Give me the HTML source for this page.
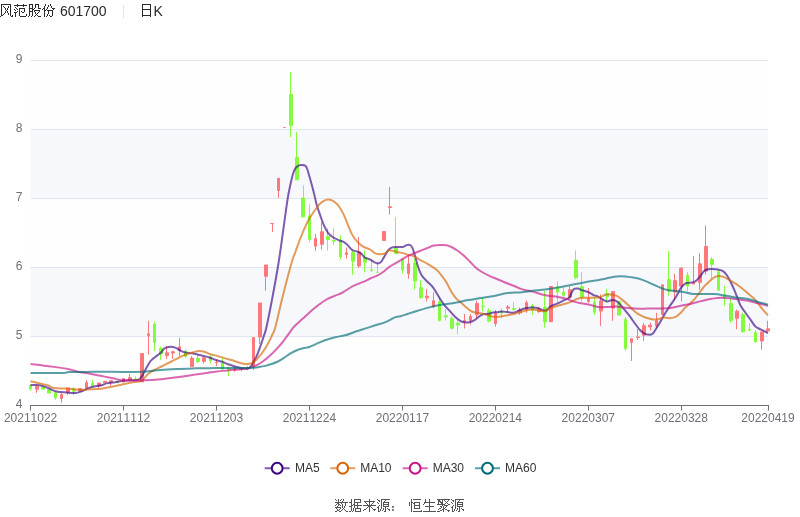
<!DOCTYPE html>
<html><head><meta charset="utf-8"><title>K</title>
<style>html,body{margin:0;padding:0;background:#fff}svg{display:block;will-change:transform}text{font-family:"Liberation Sans",sans-serif;font-kerning:none}</style></head>
<body>
<svg width="800" height="517" viewBox="0 0 800 517">
<rect width="800" height="517" fill="#fff"/>
<path fill="#2a2a2a" shape-rendering="crispEdges" d="M1 4h10v1h-10zM17 4h1v1h-1zM23 4h1v1h-1zM29 4h4v1h-4zM35 4h4v1h-4zM45 4h1v1h-1zM50 4h1v1h-1zM1 5h1v1h-1zM10 5h1v1h-1zM14 5h13v1h-13zM29 5h1v1h-1zM32 5h1v1h-1zM35 5h1v1h-1zM38 5h1v1h-1zM45 5h1v1h-1zM48 5h1v1h-1zM50 5h1v1h-1zM1 6h1v1h-1zM3 6h1v1h-1zM8 6h1v1h-1zM10 6h1v1h-1zM17 6h1v1h-1zM23 6h1v1h-1zM29 6h1v1h-1zM32 6h1v1h-1zM35 6h1v1h-1zM38 6h1v1h-1zM44 6h1v1h-1zM48 6h1v1h-1zM51 6h1v1h-1zM1 7h1v1h-1zM4 7h1v1h-1zM8 7h1v1h-1zM10 7h1v1h-1zM15 7h1v1h-1zM29 7h1v1h-1zM32 7h1v1h-1zM35 7h1v1h-1zM38 7h1v1h-1zM44 7h1v1h-1zM47 7h1v1h-1zM51 7h1v1h-1zM1 8h1v1h-1zM5 8h1v1h-1zM7 8h1v1h-1zM10 8h1v1h-1zM16 8h1v1h-1zM19 8h6v1h-6zM29 8h4v1h-4zM34 8h1v1h-1zM38 8h3v1h-3zM43 8h2v1h-2zM47 8h1v1h-1zM52 8h3v1h-3zM1 9h1v1h-1zM5 9h1v1h-1zM7 9h1v1h-1zM10 9h1v1h-1zM14 9h1v1h-1zM17 9h1v1h-1zM19 9h1v1h-1zM24 9h1v1h-1zM29 9h1v1h-1zM32 9h2v1h-2zM42 9h1v1h-1zM44 9h1v1h-1zM46 9h1v1h-1zM53 9h1v1h-1zM1 10h1v1h-1zM6 10h1v1h-1zM10 10h1v1h-1zM15 10h1v1h-1zM19 10h1v1h-1zM24 10h1v1h-1zM29 10h1v1h-1zM32 10h1v1h-1zM34 10h6v1h-6zM44 10h2v1h-2zM47 10h6v1h-6zM1 11h1v1h-1zM5 11h1v1h-1zM7 11h1v1h-1zM10 11h1v1h-1zM17 11h1v1h-1zM19 11h1v1h-1zM21 11h1v1h-1zM24 11h1v1h-1zM29 11h4v1h-4zM34 11h1v1h-1zM39 11h1v1h-1zM44 11h1v1h-1zM48 11h1v1h-1zM52 11h1v1h-1zM1 12h1v1h-1zM5 12h1v1h-1zM7 12h1v1h-1zM10 12h1v1h-1zM14 12h3v1h-3zM19 12h1v1h-1zM22 12h2v1h-2zM29 12h1v1h-1zM32 12h1v1h-1zM35 12h1v1h-1zM38 12h1v1h-1zM44 12h1v1h-1zM48 12h1v1h-1zM52 12h1v1h-1zM1 13h1v1h-1zM4 13h1v1h-1zM8 13h1v1h-1zM10 13h1v1h-1zM15 13h1v1h-1zM19 13h1v1h-1zM29 13h1v1h-1zM32 13h1v1h-1zM35 13h1v1h-1zM37 13h1v1h-1zM44 13h1v1h-1zM48 13h1v1h-1zM52 13h1v1h-1zM1 14h1v1h-1zM3 14h1v1h-1zM8 14h1v1h-1zM10 14h1v1h-1zM15 14h1v1h-1zM19 14h1v1h-1zM26 14h1v1h-1zM29 14h1v1h-1zM32 14h1v1h-1zM36 14h1v1h-1zM44 14h1v1h-1zM47 14h1v1h-1zM52 14h1v1h-1zM1 15h2v1h-2zM10 15h1v1h-1zM12 15h1v1h-1zM15 15h1v1h-1zM19 15h1v1h-1zM26 15h1v1h-1zM29 15h1v1h-1zM32 15h1v1h-1zM35 15h1v1h-1zM37 15h1v1h-1zM44 15h1v1h-1zM47 15h1v1h-1zM49 15h1v1h-1zM52 15h1v1h-1zM0 16h1v1h-1zM11 16h2v1h-2zM15 16h1v1h-1zM20 16h6v1h-6zM28 16h1v1h-1zM31 16h1v1h-1zM34 16h1v1h-1zM38 16h3v1h-3zM44 16h1v1h-1zM46 16h1v1h-1zM50 16h2v1h-2zM142 4h9v1h-9zM142 5h1v1h-1zM150 5h1v1h-1zM142 6h1v1h-1zM150 6h1v1h-1zM142 7h1v1h-1zM150 7h1v1h-1zM142 8h1v1h-1zM150 8h1v1h-1zM142 9h9v1h-9zM142 10h1v1h-1zM150 10h1v1h-1zM142 11h1v1h-1zM150 11h1v1h-1zM142 12h1v1h-1zM150 12h1v1h-1zM142 13h1v1h-1zM150 13h1v1h-1zM142 14h1v1h-1zM150 14h1v1h-1zM142 15h9v1h-9zM142 16h1v1h-1zM150 16h1v1h-1z"/>
<text x="59.9" y="16" font-size="14" fill="#2a2a2a">601700</text>
<rect x="123" y="5" width="1" height="13" fill="#e4e4e4"/>
<text x="153.6" y="16" font-size="14" fill="#2a2a2a">K</text>
<rect x="30.6" y="60.5" width="737.42" height="69" fill="rgba(250,250,250,0.2)"/>
<rect x="30.6" y="129.5" width="737.42" height="69" fill="rgba(210,219,238,0.2)"/>
<rect x="30.6" y="198.5" width="737.42" height="69" fill="rgba(250,250,250,0.2)"/>
<rect x="30.6" y="267.5" width="737.42" height="69" fill="rgba(210,219,238,0.2)"/>
<rect x="30.6" y="336.5" width="737.42" height="69" fill="rgba(250,250,250,0.2)"/>
<path d="M30.6 60.5H768.02" stroke="#e0e6f1" stroke-width="1" fill="none"/>
<path d="M30.6 129.5H768.02" stroke="#e0e6f1" stroke-width="1" fill="none"/>
<path d="M30.6 198.5H768.02" stroke="#e0e6f1" stroke-width="1" fill="none"/>
<path d="M30.6 267.5H768.02" stroke="#e0e6f1" stroke-width="1" fill="none"/>
<path d="M30.6 336.5H768.02" stroke="#e0e6f1" stroke-width="1" fill="none"/>
<text x="22.5" y="62.8" font-size="12" fill="#6e7079" text-anchor="end">9</text>
<text x="22.5" y="131.8" font-size="12" fill="#6e7079" text-anchor="end">8</text>
<text x="22.5" y="200.8" font-size="12" fill="#6e7079" text-anchor="end">7</text>
<text x="22.5" y="269.8" font-size="12" fill="#6e7079" text-anchor="end">6</text>
<text x="22.5" y="338.8" font-size="12" fill="#6e7079" text-anchor="end">5</text>
<text x="22.5" y="407.8" font-size="12" fill="#6e7079" text-anchor="end">4</text>
<clipPath id="cp"><rect x="29" y="59" width="742" height="348"/></clipPath>
<g clip-path="url(#cp)">
<path d="M35.5 386.4H38.5V389.2H35.5ZM36.5 389.2V392.8M60.5 394.5H62.5V398.5H60.5ZM61.5 393.2V394.5M61.5 398.5V402.9M66.5 387.9H69.5V392.3H66.5ZM67.5 392.3V394.8M78.5 388.6H81.5V391H78.5ZM85.5 382.6H87.5V387.9H85.5ZM86.5 380.2V382.6M97.5 383H100.5V385.8H97.5ZM98.5 385.8V387.8M103.5 381.3H106.5V382.6H103.5ZM109.5 380.7H112.5V382H109.5ZM110.5 382V385.9M122.5 378.6H124.5V382H122.5ZM128.5 377.6H131.5V379.8H128.5ZM129.5 374V377.6M140.5 353.5H143.5V381.8H140.5ZM147.5 333.8H149.5V335.7H147.5ZM148.5 320.8V333.8M148.5 335.7V354.7M165.5 352.8H168.5V355.6H165.5ZM166.5 346.3V352.8M166.5 355.6V358.9M171.5 351.7H174.5V353H171.5ZM172.5 350.8V351.7M172.5 353V358.9M178.5 346.8H180.5V350.5H178.5ZM179.5 337.9V346.8M179.5 350.5V356.1M190.5 358.1H193.5V366.6H190.5ZM191.5 356.1V358.1M202.5 357.7H205.5V361.3H202.5ZM203.5 361.3V363.5M215.5 362.3H217.5V362.7H215.5ZM216.5 359.8V362.3M216.5 362.7V366.2M233.5 368.9H236.5V369.8H233.5ZM234.5 366.5V368.9M234.5 369.8V371.8M239.5 368.9H242.5V369.5H239.5ZM241.5 367.8V368.9M241.5 369.5V371.3M252.5 337.5H254.5V366.6H252.5ZM253.5 366.6V369.7M258.5 303H261.5V337.1H258.5ZM259.5 337.1V343.9M264.5 265H267.5V276.3H264.5ZM265.5 276.3V290.7M270.5 223.5H273.5V223.5H270.5ZM272.5 223.5V231.8M277.5 178.3H279.5V190.5H277.5ZM278.5 190.5V197.9M283.5 127.5H285.5V127.5H283.5ZM314.5 238.4H316.5V246.2H314.5ZM315.5 233.9V238.4M315.5 246.2V250.8M320.5 231.7H323.5V244.3H320.5ZM321.5 222.2V231.7M321.5 244.3V249.6M345.5 252.8H347.5V254.5H345.5ZM346.5 247.4V252.8M346.5 254.5V258.7M357.5 251.9H360.5V266H357.5ZM358.5 237V251.9M358.5 266V268M382.5 231.5H385.5V240.5H382.5ZM388.5 206.7H391.5V207.5H388.5ZM389.5 187V206.7M389.5 207.5V214.6M407.5 263.9H409.5V273.6H407.5ZM408.5 255.2V263.9M408.5 273.6V278.7M425.5 296.3H428.5V297.8H425.5ZM426.5 289.1V296.3M426.5 297.8V301.4M432.5 300.7H434.5V306.6H432.5ZM433.5 292.4V300.7M433.5 306.6V308M463.5 320.5H465.5V322H463.5ZM464.5 314V320.5M464.5 322V328.5M469.5 316.4H471.5V320.4H469.5ZM470.5 314V316.4M470.5 320.4V324.7M475.5 303.4H478.5V314.8H475.5ZM476.5 300.8V303.4M476.5 314.8V317.8M494.5 313.2H496.5V323.6H494.5ZM495.5 310.2V313.2M495.5 323.6V326.6M506.5 307H509.5V308.2H506.5ZM507.5 305V307M507.5 308.2V312.8M518.5 310.1H521.5V312.9H518.5ZM519.5 307.5V310.1M519.5 312.9V314.7M525.5 302.6H527.5V309.8H525.5ZM526.5 300.6V302.6M526.5 309.8V312.8M537.5 308.9H540.5V311.6H537.5ZM538.5 307.1V308.9M538.5 311.6V312.8M549.5 286.5H552.5V321.7H549.5ZM568.5 289.7H571.5V297.2H568.5ZM569.5 286.4V289.7M569.5 297.2V298.3M587.5 298.7H589.5V301.5H587.5ZM588.5 288V298.7M588.5 301.5V302.8M599.5 300.9H602.5V311.1H599.5ZM600.5 294.4V300.9M600.5 311.1V325.9M611.5 291.5H614.5V308.1H611.5ZM612.5 308.1V320.8M630.5 338.7H632.5V342.4H630.5ZM631.5 342.4V360.9M636.5 336.9H639.5V337.5H636.5ZM637.5 329V336.9M637.5 337.5V340M642.5 325.7H645.5V335.3H642.5ZM643.5 322.8V325.7M643.5 335.3V340.9M648.5 325.2H651.5V326.9H648.5ZM650.5 322.6V325.2M650.5 326.9V330.6M655.5 320.6H657.5V325.9H655.5ZM656.5 312.9V320.6M656.5 325.9V328.4M661.5 284.8H663.5V314.7H661.5ZM673.5 280.6H676.5V292.1H673.5ZM674.5 273.8V280.6M674.5 292.1V300.2M679.5 268.4H682.5V286.1H679.5ZM681.5 267V268.4M681.5 286.1V301.4M692.5 282.9H694.5V284H692.5ZM693.5 256V282.9M698.5 263.8H701.5V282.4H698.5ZM699.5 253.2V263.8M699.5 282.4V290.1M704.5 246.4H707.5V271.2H704.5ZM705.5 225.5V246.4M705.5 271.2V274.6M735.5 311.3H738.5V318.3H735.5ZM736.5 309.6V311.3M736.5 318.3V329.1M760.5 331.9H763.5V341H760.5ZM761.5 341V349.7M766.5 328.8H769.5V330.9H766.5ZM767.5 320.8V328.8M767.5 330.9V332" fill="#fe777b" stroke="#fe777b" stroke-width="1"/>
<path d="M29.5 385.6H31.5V388.8H29.5ZM30.5 388.8V390.7M41.5 387.1H44.5V389.2H41.5ZM47.5 389.8H50.5V393.1H47.5ZM54.5 392.6H56.5V397.8H54.5ZM55.5 391.5V392.6M55.5 397.8V399.8M72.5 388.9H75.5V391.3H72.5ZM73.5 387V388.9M73.5 391.3V395M91.5 383.2H93.5V385.8H91.5ZM92.5 380.2V383.2M116.5 381.3H118.5V382.2H116.5ZM117.5 382.2V383.4M134.5 378.9H137.5V380H134.5ZM135.5 376.5V378.9M153.5 324.2H155.5V342.4H153.5ZM154.5 321.5V324.2M154.5 342.4V351M159.5 348.3H162.5V354H159.5ZM160.5 346.7V348.3M160.5 354V359.8M184.5 351.2H186.5V356.3H184.5ZM185.5 349.5V351.2M185.5 356.3V358M196.5 358.5H199.5V361.5H196.5ZM197.5 355.5V358.5M197.5 361.5V363M209.5 356.9H211.5V360.9H209.5ZM210.5 355.5V356.9M210.5 360.9V363.3M221.5 363.2H223.5V369.2H221.5ZM222.5 358.3V363.2M227.5 368.9H230.5V369.8H227.5ZM228.5 366.5V368.9M228.5 369.8V376M246.5 368.3H248.5V368.8H246.5ZM247.5 365.5V368.3M247.5 368.8V370.3M289.5 94.5H292.5V125.4H289.5ZM290.5 72V94.5M290.5 125.4V137M295.5 157.5H298.5V179.8H295.5ZM296.5 132.2V157.5M301.5 198H304.5V216.9H301.5ZM303.5 185.3V198M308.5 215.7H310.5V239.3H308.5ZM309.5 204.2V215.7M309.5 239.3V241.9M326.5 236.5H329.5V239.5H326.5ZM327.5 228.2V236.5M327.5 239.5V250.5M332.5 240.5H335.5V241.2H332.5ZM333.5 228.2V240.5M333.5 241.2V244.8M339.5 240.9H341.5V256.6H339.5ZM340.5 235.4V240.9M340.5 256.6V259.3M351.5 252.5H354.5V261.2H351.5ZM352.5 250.8V252.5M352.5 261.2V275.1M363.5 257.6H366.5V262.2H363.5ZM364.5 250.5V257.6M364.5 262.2V272.5M370.5 269.8H372.5V270.4H370.5ZM371.5 259V269.8M371.5 270.4V271.8M376.5 272.3H378.5V272.3H376.5ZM377.5 261.5V272.3M394.5 248.1H397.5V253.4H394.5ZM395.5 217.1V248.1M401.5 259.2H403.5V270H401.5ZM402.5 270V273.8M413.5 263H416.5V281H413.5ZM414.5 259V263M414.5 281V289.5M419.5 287.7H422.5V297.4H419.5ZM420.5 280.2V287.7M420.5 297.4V298.9M438.5 301.5H440.5V320.4H438.5ZM439.5 296.6V301.5M439.5 320.4V321.5M444.5 315.8H447.5V317H444.5ZM445.5 309V315.8M445.5 317V320.5M450.5 318.6H453.5V328.3H450.5ZM451.5 316.3V318.6M451.5 328.3V329.7M456.5 323H459.5V325.1H456.5ZM457.5 319.7V323M457.5 325.1V334.4M481.5 306.1H484.5V306.6H481.5ZM482.5 297.6V306.1M482.5 306.6V311.5M487.5 310.7H490.5V321H487.5ZM488.5 308.3V310.7M488.5 321V322.2M500.5 311.5H502.5V313.1H500.5ZM501.5 308.2V311.5M501.5 313.1V318.4M512.5 308.6H515.5V309.5H512.5ZM513.5 302.1V308.6M513.5 309.5V310.9M531.5 305.5H533.5V310.4H531.5ZM532.5 303.7V305.5M532.5 310.4V315M543.5 307.6H546.5V321.7H543.5ZM544.5 291.1V307.6M544.5 321.7V327.6M556.5 286.9H558.5V292.1H556.5ZM557.5 281.3V286.9M557.5 292.1V303M562.5 292.1H564.5V295.3H562.5ZM563.5 287.6V292.1M563.5 295.3V297M574.5 260.6H577.5V277.8H574.5ZM575.5 250.3V260.6M575.5 277.8V279.2M580.5 286.5H583.5V297.3H580.5ZM581.5 272V286.5M581.5 297.3V301.5M593.5 302.5H595.5V312.2H593.5ZM594.5 298V302.5M594.5 312.2V315.1M605.5 293.7H608.5V296.4H605.5ZM606.5 288.8V293.7M606.5 296.4V302.6M617.5 301.6H620.5V315.1H617.5ZM624.5 319.4H626.5V348.6H624.5ZM625.5 317.2V319.4M625.5 348.6V350.8M667.5 279.7H670.5V290.8H667.5ZM668.5 251.2V279.7M668.5 290.8V295.7M686.5 275.3H688.5V286.1H686.5ZM687.5 272V275.3M687.5 286.1V291.4M710.5 259.4H713.5V264.3H710.5ZM711.5 257.2V259.4M711.5 264.3V278.7M717.5 271.8H719.5V290.2H717.5ZM718.5 269.8V271.8M723.5 294.4H725.5V298.1H723.5ZM724.5 285.6V294.4M724.5 298.1V305.8M729.5 303.4H732.5V320.4H729.5ZM730.5 298.3V303.4M730.5 320.4V322.8M741.5 314.5H744.5V331.7H741.5ZM742.5 312.7V314.5M742.5 331.7V332.9M748.5 329.3H750.5V330.2H748.5ZM749.5 323.4V329.3M754.5 332.6H756.5V342H754.5ZM755.5 330.2V332.6" fill="#84fb3c" stroke="#84fb3c" stroke-width="1"/>
</g>
<path d="M30.5 385C31.68 385 35.37 384.78 37.6 385C39.83 385.22 41.8 385.63 43.9 386.3C46 386.97 48.12 388.13 50.2 389C52.28 389.87 53.68 390.92 56.4 391.5C59.12 392.08 63.35 392.25 66.5 392.5C69.65 392.75 72.78 393.2 75.3 393C77.82 392.8 79.5 392.07 81.6 391.3C83.7 390.53 85.8 389.2 87.9 388.4C90 387.6 92.1 386.98 94.2 386.5C96.3 386.02 98.4 386.02 100.5 385.5C102.6 384.98 104.72 383.9 106.8 383.4C108.88 382.9 110.92 382.8 113 382.5C115.08 382.2 117.3 381.93 119.3 381.6C121.3 381.27 122.78 380.72 125 380.5C127.22 380.28 130.28 380.45 132.6 380.3C134.92 380.15 137.23 380.45 138.9 379.6C140.57 378.75 141.55 376.77 142.6 375.2C143.65 373.63 144.25 371.98 145.2 370.2C146.15 368.42 147.27 366.18 148.3 364.5C149.33 362.82 149.83 361.67 151.4 360.1C152.97 358.53 156.02 356.45 157.7 355.1C159.38 353.75 160.45 353.05 161.5 352C162.55 350.95 163.05 349.6 164 348.8C164.95 348 165.73 347.52 167.2 347.2C168.67 346.88 171.23 346.73 172.8 346.9C174.37 347.07 175.33 347.57 176.6 348.2C177.87 348.83 178.93 349.97 180.4 350.7C181.87 351.43 183.52 352.18 185.4 352.6C187.28 353.02 189.6 352.85 191.7 353.2C193.8 353.55 195.7 354.17 198 354.7C200.3 355.23 203.4 355.85 205.5 356.4C207.6 356.95 208.85 357.4 210.6 358C212.35 358.6 214.22 359.42 216 360C217.78 360.58 219.37 360.83 221.3 361.5C223.23 362.17 225.5 363.2 227.6 364C229.7 364.8 231.8 365.67 233.9 366.3C236 366.93 238.12 367.38 240.2 367.8C242.28 368.22 244.83 368.8 246.4 368.8C247.97 368.8 248.55 368.7 249.6 367.8C250.65 366.9 251.55 365.3 252.7 363.4C253.85 361.5 255.23 359.23 256.5 356.4C257.77 353.57 259.03 349.95 260.3 346.4C261.57 342.85 263.07 338.33 264.1 335.1C265.13 331.87 265.07 333.52 266.5 327C267.93 320.48 270.67 306.83 272.7 296C274.73 285.17 276.93 273.05 278.7 262C280.47 250.95 281.8 240.28 283.3 229.7C284.8 219.12 286.45 206.32 287.7 198.5C288.95 190.68 289.85 187.1 290.8 182.8C291.75 178.5 292.55 175.22 293.4 172.7C294.25 170.18 294.97 168.92 295.9 167.7C296.83 166.48 297.95 165.87 299 165.4C300.05 164.93 301.15 164.83 302.2 164.9C303.25 164.97 304.47 165.12 305.3 165.8C306.13 166.48 306.57 167.42 307.2 169C307.83 170.58 308.15 171.95 309.1 175.3C310.05 178.65 311.88 185.23 312.9 189.1C313.92 192.97 314.58 195.93 315.2 198.5C315.82 201.07 315.73 201.6 316.6 204.5C317.47 207.4 319.13 212.33 320.4 215.9C321.67 219.47 322.93 223.08 324.2 225.9C325.47 228.72 326.53 230.9 328 232.8C329.47 234.7 331.33 236.13 333 237.3C334.67 238.47 336.32 239.07 338 239.8C339.68 240.53 341.68 241 343.1 241.7C344.52 242.4 345.55 243.22 346.5 244C347.45 244.78 347.8 245.37 348.8 246.4C349.8 247.43 351.03 249.32 352.5 250.2C353.97 251.08 356.12 251.08 357.6 251.7C359.08 252.32 360.15 252.9 361.4 253.9C362.65 254.9 363.63 256.75 365.1 257.7C366.57 258.65 368.62 258.82 370.2 259.6C371.78 260.38 373.35 261.77 374.6 262.4C375.85 263.03 376.67 263.45 377.7 263.4C378.73 263.35 379.75 263.15 380.8 262.1C381.85 261.05 382.83 258.98 384 257.1C385.17 255.22 386.55 252.38 387.8 250.8C389.05 249.22 390.03 248.23 391.5 247.6C392.97 246.97 394.7 247.1 396.6 247C398.5 246.9 401.23 247.32 402.9 247C404.57 246.68 405.45 245.45 406.6 245.1C407.75 244.75 408.85 244.48 409.8 244.9C410.75 245.32 411.47 245.88 412.3 247.6C413.13 249.32 413.85 252.05 414.8 255.2C415.75 258.35 416.87 263.17 418 266.5C419.13 269.83 420.07 272.7 421.6 275.2C423.13 277.7 425.33 279.52 427.2 281.5C429.07 283.48 430.83 284.52 432.8 287.1C434.77 289.68 437.13 294.08 439 297C440.87 299.92 442.33 302.4 444 304.6C445.67 306.8 447.12 308.12 449 310.2C450.88 312.28 453.42 315.32 455.3 317.1C457.18 318.88 458.83 320.05 460.3 320.9C461.77 321.75 462.62 321.98 464.1 322.2C465.58 322.42 467.52 322.52 469.2 322.2C470.88 321.88 472.53 321.25 474.2 320.3C475.87 319.35 477.73 317.52 479.2 316.5C480.67 315.48 481.53 314.62 483 314.2C484.47 313.78 486.32 314.28 488 314C489.68 313.72 491.6 312.8 493.1 312.5C494.6 312.2 495.63 312.37 497 312.2C498.37 312.03 499.53 311.52 501.3 311.5C503.07 311.48 505.5 311.88 507.6 312.1C509.7 312.32 511.8 313.15 513.9 312.8C516 312.45 518.12 310.78 520.2 310C522.28 309.22 524.32 308.52 526.4 308.1C528.48 307.68 530.6 307.45 532.7 307.5C534.8 307.55 537.32 307.93 539 308.4C540.68 308.87 541.53 309.98 542.8 310.3C544.07 310.62 545.35 310.93 546.6 310.3C547.85 309.67 548.42 307.67 550.3 306.5C552.18 305.33 555.58 304.35 557.9 303.3C560.22 302.25 562.32 301.13 564.2 300.2C566.08 299.27 567.95 298.97 569.2 297.7C570.45 296.43 570.87 294.07 571.7 292.6C572.53 291.13 573.15 289.57 574.2 288.9C575.25 288.23 576.73 288.4 578 288.6C579.27 288.8 580.12 289.53 581.8 290.1C583.48 290.67 586.07 291.13 588.1 292C590.13 292.87 592.42 294.58 594 295.3C595.58 296.02 596.17 295.6 597.6 296.3C599.03 297 601.03 298.65 602.6 299.5C604.17 300.35 605.32 301.3 607 301.4C608.68 301.5 610.92 300 612.7 300.1C614.48 300.2 616.03 300.75 617.7 302C619.37 303.25 620.82 305.4 622.7 307.6C624.58 309.8 626.9 312.47 629 315.2C631.1 317.93 633.42 321.48 635.3 324C637.18 326.52 638.83 328.73 640.3 330.3C641.77 331.87 642.62 332.67 644.1 333.4C645.58 334.13 647.73 334.7 649.2 334.7C650.67 334.7 651.65 334.55 652.9 333.4C654.15 332.25 655.43 329.78 656.7 327.8C657.97 325.82 659.03 324.02 660.5 321.5C661.97 318.98 663.83 315.43 665.5 312.7C667.17 309.97 668.82 307.62 670.5 305.1C672.18 302.58 673.92 300.37 675.6 297.6C677.28 294.83 679.28 290.6 680.6 288.5C681.92 286.4 682.52 285.92 683.5 285C684.48 284.08 684.95 283.43 686.5 283C688.05 282.57 691.13 282.82 692.8 282.4C694.47 281.98 695.25 281.55 696.5 280.5C697.75 279.45 699.03 277.67 700.3 276.1C701.57 274.53 702.83 272.25 704.1 271.1C705.37 269.95 706.43 269.57 707.9 269.2C709.37 268.83 711.23 268.85 712.9 268.9C714.57 268.95 716.22 269.13 717.9 269.5C719.58 269.87 721.5 270.13 723 271.1C724.5 272.07 725.65 273.52 726.9 275.3C728.15 277.08 729.48 279.85 730.5 281.8C731.52 283.75 732.18 285.2 733 287C733.82 288.8 734.17 289.57 735.4 292.6C736.63 295.63 738.72 301.85 740.4 305.2C742.08 308.55 743.82 310.28 745.5 312.7C747.18 315.12 748.83 317.38 750.5 319.7C752.17 322.02 753.82 325 755.5 326.6C757.18 328.2 758.52 328.22 760.6 329.3C762.68 330.38 766.77 332.47 768 333.1" fill="none" stroke="#390583" stroke-opacity="0.65" stroke-width="2" stroke-linejoin="bevel"/>
<path d="M30.5 381.2C31.68 381.5 34.75 382.32 37.6 383C40.45 383.68 44.88 384.47 47.6 385.3C50.32 386.13 50.75 387.45 53.9 388C57.05 388.55 62.32 388.32 66.5 388.6C70.68 388.88 75.02 389.58 79 389.7C82.98 389.82 86.4 389.52 90.4 389.3C94.4 389.08 99.23 388.87 103 388.4C106.77 387.93 109.43 387.23 113 386.5C116.57 385.77 121.13 384.72 124.4 384C127.67 383.28 130.18 382.62 132.6 382.2C135.02 381.78 137.23 381.82 138.9 381.5C140.57 381.18 141.55 381.03 142.6 380.3C143.65 379.57 144.15 378.27 145.2 377.1C146.25 375.93 147.65 374.35 148.9 373.3C150.15 372.25 151.23 371.63 152.7 370.8C154.17 369.97 155.82 369.23 157.7 368.3C159.58 367.37 161.9 366.25 164 365.2C166.1 364.15 168.2 363.05 170.3 362C172.4 360.95 174.5 359.95 176.6 358.9C178.7 357.85 180.8 356.58 182.9 355.7C185 354.82 187.1 354.28 189.2 353.6C191.3 352.92 193.83 352.02 195.5 351.6C197.17 351.18 197.73 351.08 199.2 351.1C200.67 351.12 202.4 351.18 204.3 351.7C206.2 352.22 208.65 353.55 210.6 354.2C212.55 354.85 214.22 355.12 216 355.6C217.78 356.08 219.37 356.53 221.3 357.1C223.23 357.67 225.5 358.38 227.6 359C229.7 359.62 231.8 360.13 233.9 360.8C236 361.47 238.12 362.47 240.2 363C242.28 363.53 244.52 363.98 246.4 364C248.28 364.02 249.82 363.83 251.5 363.1C253.18 362.37 254.62 361.45 256.5 359.6C258.38 357.75 260.92 354.62 262.8 352C264.68 349.38 266.33 346.52 267.8 343.9C269.27 341.28 270.33 339.12 271.6 336.3C272.87 333.48 273.53 333.72 275.4 327C277.27 320.28 280.07 306.83 282.8 296C285.53 285.17 289.72 269.28 291.8 262C293.88 254.72 293.88 256.22 295.3 252.3C296.72 248.38 298.63 242.78 300.3 238.5C301.97 234.22 303.63 230.17 305.3 226.6C306.97 223.03 308.62 219.93 310.3 217.1C311.98 214.27 313.72 211.9 315.4 209.6C317.08 207.3 318.73 204.88 320.4 203.3C322.07 201.72 324.03 200.73 325.4 200.1C326.77 199.47 327.33 199.38 328.6 199.5C329.87 199.62 331.43 199.85 333 200.8C334.57 201.75 336.32 203.1 338 205.2C339.68 207.3 341.45 210.13 343.1 213.4C344.75 216.67 346.48 221.43 347.9 224.8C349.32 228.17 350.4 231.23 351.6 233.6C352.8 235.97 353.9 237.4 355.1 239C356.3 240.6 357.33 241.87 358.8 243.2C360.27 244.53 362 245.95 363.9 247C365.8 248.05 368.32 248.45 370.2 249.5C372.08 250.55 373.53 252.52 375.2 253.3C376.87 254.08 378.52 254.2 380.2 254.2C381.88 254.2 383.83 253.97 385.3 253.3C386.77 252.63 387.33 250.52 389 250.2C390.67 249.88 393.2 250.95 395.3 251.4C397.4 251.85 399.5 252.37 401.6 252.9C403.7 253.43 405.8 254.02 407.9 254.6C410 255.18 412.1 255.47 414.2 256.4C416.3 257.33 418.4 259.03 420.5 260.2C422.6 261.37 424.97 262.38 426.8 263.4C428.63 264.42 429.92 265.27 431.5 266.3C433.08 267.33 434.58 268.02 436.3 269.6C438.02 271.18 440.1 273.65 441.8 275.8C443.5 277.95 445.05 280.08 446.5 282.5C447.95 284.92 449.33 288.22 450.5 290.3C451.67 292.38 452.48 293.57 453.5 295C454.52 296.43 455.25 297.52 456.6 298.9C457.95 300.28 459.93 301.83 461.6 303.3C463.27 304.77 464.92 306.33 466.6 307.7C468.28 309.07 470.02 310.67 471.7 311.5C473.38 312.33 474.82 312.33 476.7 312.7C478.58 313.07 481.12 313.27 483 313.7C484.88 314.13 486.32 314.8 488 315.3C489.68 315.8 491.22 316.47 493.1 316.7C494.98 316.93 496.88 316.93 499.3 316.7C501.72 316.47 505.17 315.75 507.6 315.3C510.03 314.85 511.8 314.53 513.9 314C516 313.47 518.12 312.72 520.2 312.1C522.28 311.48 524.32 310.72 526.4 310.3C528.48 309.88 530.6 309.57 532.7 309.6C534.8 309.63 536.9 310.22 539 310.5C541.1 310.78 543.42 311.65 545.3 311.3C547.18 310.95 548.2 309.32 550.3 308.4C552.4 307.48 555.58 306.53 557.9 305.8C560.22 305.07 562.1 304.62 564.2 304C566.3 303.38 568.62 302.83 570.5 302.1C572.38 301.37 573.83 300.3 575.5 299.6C577.17 298.9 578.4 298.2 580.5 297.9C582.6 297.6 585.25 297.85 588.1 297.8C590.95 297.75 595.38 297.8 597.6 297.6C599.82 297.4 600.15 297.07 601.4 296.6C602.65 296.13 603.63 295.17 605.1 294.8C606.57 294.43 608.32 294.25 610.2 294.4C612.08 294.55 614.32 294.75 616.4 295.7C618.48 296.65 620.6 298.42 622.7 300.1C624.8 301.78 626.9 303.82 629 305.8C631.1 307.78 633.2 310.33 635.3 312C637.4 313.67 639.5 314.75 641.6 315.8C643.7 316.85 645.8 317.67 647.9 318.3C650 318.93 652.32 319.48 654.2 319.6C656.08 319.72 657.73 319.35 659.2 319C660.67 318.65 661.32 317.63 663 317.5C664.68 317.37 667.2 318.32 669.3 318.2C671.4 318.08 673.72 317.67 675.6 316.8C677.48 315.93 679.03 314.5 680.6 313C682.17 311.5 683.62 309.2 685 307.8C686.38 306.4 687.2 306.18 688.9 304.6C690.6 303.02 693.12 300.72 695.2 298.3C697.28 295.88 699.7 292.28 701.4 290.1C703.1 287.92 704.12 286.6 705.4 285.2C706.68 283.8 707.63 283.02 709.1 281.7C710.57 280.38 712.62 278.27 714.2 277.3C715.78 276.33 717.07 275.97 718.6 275.9C720.13 275.83 721.58 276.2 723.4 276.9C725.22 277.6 727.4 278.95 729.5 280.1C731.6 281.25 733.88 282.4 736 283.8C738.12 285.2 740 286.72 742.2 288.5C744.4 290.28 746.98 292.55 749.2 294.5C751.42 296.45 753.4 297.9 755.5 300.2C757.6 302.5 759.72 305.78 761.8 308.3C763.88 310.82 766.97 314.13 768 315.3" fill="none" stroke="#d66503" stroke-opacity="0.65" stroke-width="2" stroke-linejoin="bevel"/>
<path d="M30.5 363.9C33.78 364.32 43.78 365.52 50.2 366.4C56.62 367.28 64.4 368.32 69 369.2C73.6 370.08 74.65 371.02 77.8 371.7C80.95 372.38 84.12 372.62 87.9 373.3C91.68 373.98 96.32 374.97 100.5 375.8C104.68 376.63 109.42 377.57 113 378.3C116.58 379.03 118.73 379.83 122 380.2C125.27 380.57 128.73 380.48 132.6 380.5C136.47 380.52 141.02 380.45 145.2 380.3C149.38 380.15 153.52 379.97 157.7 379.6C161.88 379.23 166.1 378.62 170.3 378.1C174.5 377.58 178.7 377.08 182.9 376.5C187.1 375.92 191.3 375.23 195.5 374.6C199.7 373.97 204.52 373.22 208.1 372.7C211.68 372.18 213.75 371.87 217 371.5C220.25 371.13 223.73 370.87 227.6 370.5C231.47 370.13 236.63 369.72 240.2 369.3C243.77 368.88 246.48 368.57 249 368C251.52 367.43 253 366.98 255.3 365.9C257.6 364.82 260.3 363.28 262.8 361.5C265.3 359.72 267.78 357.52 270.3 355.2C272.82 352.88 275.58 350.12 277.9 347.6C280.22 345.08 282.1 342.82 284.2 340.1C286.3 337.38 288.78 333.6 290.5 331.3C292.22 329 292.43 328.42 294.5 326.3C296.57 324.18 300.32 320.98 302.9 318.6C305.48 316.22 307.57 314.13 310 312C312.43 309.87 314.77 307.88 317.5 305.8C320.23 303.72 323.45 301.18 326.4 299.5C329.35 297.82 332.48 296.87 335.2 295.7C337.92 294.53 340.02 293.95 342.7 292.5C345.38 291.05 348.82 288.4 351.3 287C353.78 285.6 355.5 285 357.6 284.1C359.7 283.2 361.8 282.53 363.9 281.6C366 280.67 367.9 279.55 370.2 278.5C372.5 277.45 375.62 276.35 377.7 275.3C379.78 274.25 380.82 273.57 382.7 272.2C384.58 270.83 386.9 268.57 389 267.1C391.1 265.63 393.2 264.65 395.3 263.4C397.4 262.15 399.5 260.87 401.6 259.6C403.7 258.33 405.8 256.85 407.9 255.8C410 254.75 412.1 254.13 414.2 253.3C416.3 252.47 418.4 251.63 420.5 250.8C422.6 249.97 425.13 248.98 426.8 248.3C428.47 247.62 429.33 247.18 430.5 246.7C431.67 246.22 432.2 245.67 433.8 245.4C435.4 245.13 438 245.12 440.1 245.1C442.2 245.08 444.52 244.98 446.4 245.3C448.28 245.62 449.52 246.1 451.4 247C453.28 247.9 455.6 249.23 457.7 250.7C459.8 252.17 461.9 253.92 464 255.8C466.1 257.68 468.22 259.92 470.3 262C472.38 264.08 474.42 266.55 476.5 268.3C478.58 270.05 480.48 271.17 482.8 272.5C485.12 273.83 488.03 275.22 490.4 276.3C492.77 277.38 494.13 277.8 497 279C499.87 280.2 504.52 282.25 507.6 283.5C510.68 284.75 513.4 285.65 515.5 286.5C517.6 287.35 518.45 287.98 520.2 288.6C521.95 289.22 523.92 289.7 526 290.2C528.08 290.7 529.48 290.77 532.7 291.6C535.92 292.43 541.1 294.3 545.3 295.2C549.5 296.1 554.33 296.38 557.9 297C561.47 297.62 564.18 298.17 566.7 298.9C569.22 299.63 570.9 300.72 573 301.4C575.1 302.08 576.97 302.53 579.3 303C581.63 303.47 585 303.85 587 304.2C589 304.55 589.53 304.63 591.3 305.1C593.07 305.57 594.88 306.68 597.6 307C600.32 307.32 604.47 307.07 607.6 307C610.73 306.93 613.88 306.5 616.4 306.6C618.92 306.7 619.55 307.27 622.7 307.6C625.85 307.93 631.1 308.43 635.3 308.6C639.5 308.77 643.7 308.62 647.9 308.6C652.1 308.58 656.73 308.6 660.5 308.5C664.27 308.4 667.23 308.43 670.5 308C673.77 307.57 676.83 306.58 680.1 305.9C683.37 305.22 686.75 304.65 690.1 303.9C693.45 303.15 696.83 302.23 700.2 301.4C703.57 300.57 707.37 299.48 710.3 298.9C713.23 298.32 715.3 298.07 717.8 297.9C720.3 297.73 722.37 297.73 725.3 297.9C728.23 298.07 731.62 298.42 735.4 298.9C739.18 299.38 744.22 300.07 748 300.8C751.78 301.53 754.77 302.47 758.1 303.3C761.43 304.13 766.35 305.38 768 305.8" fill="none" stroke="#c71585" stroke-opacity="0.65" stroke-width="2" stroke-linejoin="bevel"/>
<path d="M30.5 373C35.87 373 56.28 373.17 62.7 373C69.12 372.83 64.8 372.17 69 372C73.2 371.83 83.57 372.05 87.9 372C92.23 371.95 88.92 371.72 95 371.7C101.08 371.68 116.47 371.88 124.4 371.9C132.33 371.92 137.05 372.08 142.6 371.8C148.15 371.52 152.03 370.68 157.7 370.2C163.37 369.72 170.3 369.22 176.6 368.9C182.9 368.58 188.77 368.47 195.5 368.3C202.23 368.13 209.55 367.95 217 367.9C224.45 367.85 234.25 368.02 240.2 368C246.15 367.98 249.57 367.95 252.7 367.8C255.83 367.65 256.9 367.42 259 367.1C261.1 366.78 263.2 366.42 265.3 365.9C267.4 365.38 269.5 364.73 271.6 364C273.7 363.27 275.8 362.55 277.9 361.5C280 360.45 282.1 359.07 284.2 357.7C286.3 356.33 288.4 354.55 290.5 353.3C292.6 352.05 294.7 351.03 296.8 350.2C298.9 349.37 301.02 348.83 303.1 348.3C305.18 347.77 306.9 347.82 309.3 347C311.7 346.18 314.65 344.62 317.5 343.4C320.35 342.18 323.45 340.73 326.4 339.7C329.35 338.67 332.07 337.93 335.2 337.2C338.33 336.47 342.07 336.13 345.2 335.3C348.33 334.47 350.85 333.27 354 332.2C357.15 331.13 360.53 330.05 364.1 328.9C367.67 327.75 371.83 326.43 375.4 325.3C378.97 324.17 382.15 323.47 385.5 322.1C388.85 320.73 392.98 318.08 395.5 317.1C398.02 316.12 398.52 316.75 400.6 316.2C402.68 315.65 405.17 314.7 408 313.8C410.83 312.9 413.9 311.92 417.6 310.8C421.3 309.68 426.02 308.13 430.2 307.1C434.38 306.07 438.52 305.33 442.7 304.6C446.88 303.87 451.1 303.45 455.3 302.7C459.5 301.95 463.62 300.87 467.9 300.1C472.18 299.33 476.65 298.8 481 298.1C485.35 297.4 489.57 296.75 494 295.9C498.43 295.05 503.23 293.58 507.6 293C511.97 292.42 516.02 292.77 520.2 292.4C524.38 292.03 528.52 291.28 532.7 290.8C536.88 290.32 541.1 290.03 545.3 289.5C549.5 288.97 553.62 288.37 557.9 287.6C562.18 286.83 566.65 285.77 571 284.9C575.35 284.03 579.55 283.18 584 282.4C588.45 281.62 594.37 280.77 597.7 280.2C601.03 279.63 601.9 279.45 604 279C606.1 278.55 608.2 277.93 610.3 277.5C612.4 277.07 614.08 276.58 616.6 276.4C619.12 276.22 622.67 276.22 625.4 276.4C628.13 276.58 630.27 276.97 633 277.5C635.73 278.03 638.87 278.63 641.8 279.6C644.73 280.57 647.53 281.97 650.6 283.3C653.67 284.63 657.3 286.43 660.2 287.6C663.1 288.77 665.43 289.75 668 290.3C670.57 290.85 673.27 290.65 675.6 290.9C677.93 291.15 679.17 291.3 682 291.8C684.83 292.3 689.15 293.52 692.6 293.9C696.05 294.28 699.13 294.07 702.7 294.1C706.27 294.13 710.43 293.88 714 294.1C717.57 294.32 720.53 294.85 724.1 295.4C727.67 295.95 731.42 296.82 735.4 297.4C739.38 297.98 744.22 298.13 748 298.9C751.78 299.67 754.77 301.05 758.1 302C761.43 302.95 766.35 304.17 768 304.6" fill="none" stroke="#006b76" stroke-opacity="0.65" stroke-width="2" stroke-linejoin="bevel"/>
<path d="M30 405.5H769" stroke="#6e7079" stroke-width="1" fill="none"/>
<path d="M30.5 405.5V410.5" stroke="#6e7079" stroke-width="1" fill="none"/>
<text x="30.6" y="421.8" font-size="12" fill="#6e7079" text-anchor="middle">20211022</text>
<path d="M123.5 405.5V410.5" stroke="#6e7079" stroke-width="1" fill="none"/>
<text x="123.55" y="421.8" font-size="12" fill="#6e7079" text-anchor="middle">20211112</text>
<path d="M216.5 405.5V410.5" stroke="#6e7079" stroke-width="1" fill="none"/>
<text x="216.5" y="421.8" font-size="12" fill="#6e7079" text-anchor="middle">20211203</text>
<path d="M309.5 405.5V410.5" stroke="#6e7079" stroke-width="1" fill="none"/>
<text x="309.45" y="421.8" font-size="12" fill="#6e7079" text-anchor="middle">20211224</text>
<path d="M402.5 405.5V410.5" stroke="#6e7079" stroke-width="1" fill="none"/>
<text x="402.41" y="421.8" font-size="12" fill="#6e7079" text-anchor="middle">20220117</text>
<path d="M495.5 405.5V410.5" stroke="#6e7079" stroke-width="1" fill="none"/>
<text x="495.36" y="421.8" font-size="12" fill="#6e7079" text-anchor="middle">20220214</text>
<path d="M588.5 405.5V410.5" stroke="#6e7079" stroke-width="1" fill="none"/>
<text x="588.31" y="421.8" font-size="12" fill="#6e7079" text-anchor="middle">20220307</text>
<path d="M681.5 405.5V410.5" stroke="#6e7079" stroke-width="1" fill="none"/>
<text x="681.26" y="421.8" font-size="12" fill="#6e7079" text-anchor="middle">20220328</text>
<path d="M768.5 405.5V410.5" stroke="#6e7079" stroke-width="1" fill="none"/>
<text x="768.02" y="421.8" font-size="12" fill="#6e7079" text-anchor="middle">20220419</text>
<path d="M264.7 468.25H289.7" stroke="#390583" stroke-opacity="0.65" stroke-width="2"/>
<circle cx="277.2" cy="468.25" r="5.4" fill="#fff" stroke="#390583" stroke-width="2"/>
<text x="295" y="472.2" font-size="12" fill="#333">MA5</text>
<path d="M330.25 468.25H355.25" stroke="#d66503" stroke-opacity="0.65" stroke-width="2"/>
<circle cx="342.75" cy="468.25" r="5.4" fill="#fff" stroke="#d66503" stroke-width="2"/>
<text x="360.2" y="472.2" font-size="12" fill="#333">MA10</text>
<path d="M402.65 468.25H427.65" stroke="#c71585" stroke-opacity="0.65" stroke-width="2"/>
<circle cx="415.15" cy="468.25" r="5.4" fill="#fff" stroke="#c71585" stroke-width="2"/>
<text x="432.7" y="472.2" font-size="12" fill="#333">MA30</text>
<path d="M475 468.25H500" stroke="#006b76" stroke-opacity="0.65" stroke-width="2"/>
<circle cx="487.5" cy="468.25" r="5.4" fill="#fff" stroke="#006b76" stroke-width="2"/>
<text x="505" y="472.2" font-size="12" fill="#333">MA60</text>
<path fill="#555" shape-rendering="crispEdges" d="M335 499h1v1h-1zM338 499h1v1h-1zM341 499h1v1h-1zM343 499h1v1h-1zM351 499h1v1h-1zM354 499h7v1h-7zM369 499h1v1h-1zM377 499h1v1h-1zM381 499h9v1h-9zM411 499h1v1h-1zM413 499h8v1h-8zM425 499h1v1h-1zM429 499h1v1h-1zM437 499h13v1h-13zM451 499h1v1h-1zM455 499h9v1h-9zM336 500h1v1h-1zM338 500h1v1h-1zM340 500h1v1h-1zM343 500h1v1h-1zM351 500h1v1h-1zM354 500h1v1h-1zM360 500h1v1h-1zM369 500h1v1h-1zM378 500h2v1h-2zM381 500h1v1h-1zM385 500h1v1h-1zM411 500h1v1h-1zM425 500h1v1h-1zM429 500h1v1h-1zM438 500h2v1h-2zM442 500h1v1h-1zM444 500h1v1h-1zM448 500h1v1h-1zM452 500h2v1h-2zM455 500h1v1h-1zM459 500h1v1h-1zM338 501h1v1h-1zM342 501h1v1h-1zM351 501h1v1h-1zM354 501h1v1h-1zM360 501h1v1h-1zM364 501h11v1h-11zM379 501h1v1h-1zM381 501h1v1h-1zM384 501h1v1h-1zM411 501h1v1h-1zM425 501h1v1h-1zM429 501h1v1h-1zM438 501h3v1h-3zM442 501h1v1h-1zM445 501h1v1h-1zM447 501h1v1h-1zM453 501h1v1h-1zM455 501h1v1h-1zM458 501h1v1h-1zM335 502h13v1h-13zM349 502h3v1h-3zM354 502h7v1h-7zM365 502h1v1h-1zM369 502h1v1h-1zM373 502h1v1h-1zM377 502h1v1h-1zM381 502h1v1h-1zM383 502h6v1h-6zM409 502h1v1h-1zM411 502h2v1h-2zM414 502h6v1h-6zM424 502h11v1h-11zM438 502h1v1h-1zM440 502h3v1h-3zM446 502h1v1h-1zM451 502h1v1h-1zM455 502h1v1h-1zM457 502h6v1h-6zM337 503h2v1h-2zM341 503h1v1h-1zM345 503h1v1h-1zM351 503h1v1h-1zM354 503h1v1h-1zM357 503h1v1h-1zM366 503h1v1h-1zM369 503h1v1h-1zM372 503h1v1h-1zM378 503h1v1h-1zM381 503h1v1h-1zM383 503h1v1h-1zM388 503h1v1h-1zM409 503h1v1h-1zM411 503h1v1h-1zM413 503h2v1h-2zM419 503h1v1h-1zM424 503h1v1h-1zM429 503h1v1h-1zM438 503h1v1h-1zM441 503h2v1h-2zM445 503h1v1h-1zM447 503h1v1h-1zM452 503h1v1h-1zM455 503h1v1h-1zM457 503h1v1h-1zM462 503h1v1h-1zM336 504h1v1h-1zM338 504h2v1h-2zM342 504h1v1h-1zM345 504h1v1h-1zM351 504h1v1h-1zM353 504h2v1h-2zM357 504h1v1h-1zM367 504h1v1h-1zM369 504h1v1h-1zM371 504h1v1h-1zM381 504h1v1h-1zM383 504h6v1h-6zM409 504h1v1h-1zM411 504h1v1h-1zM414 504h1v1h-1zM419 504h1v1h-1zM423 504h1v1h-1zM429 504h1v1h-1zM437 504h8v1h-8zM448 504h2v1h-2zM455 504h1v1h-1zM457 504h6v1h-6zM335 505h1v1h-1zM338 505h1v1h-1zM340 505h1v1h-1zM342 505h1v1h-1zM345 505h1v1h-1zM351 505h2v1h-2zM354 505h8v1h-8zM363 505h13v1h-13zM379 505h1v1h-1zM381 505h1v1h-1zM383 505h1v1h-1zM388 505h1v1h-1zM409 505h1v1h-1zM411 505h1v1h-1zM414 505h6v1h-6zM429 505h1v1h-1zM442 505h1v1h-1zM444 505h4v1h-4zM453 505h1v1h-1zM455 505h1v1h-1zM457 505h1v1h-1zM462 505h1v1h-1zM337 506h1v1h-1zM342 506h1v1h-1zM344 506h1v1h-1zM349 506h3v1h-3zM354 506h1v1h-1zM357 506h1v1h-1zM368 506h3v1h-3zM378 506h1v1h-1zM381 506h1v1h-1zM383 506h6v1h-6zM411 506h1v1h-1zM414 506h1v1h-1zM419 506h1v1h-1zM425 506h9v1h-9zM440 506h2v1h-2zM443 506h1v1h-1zM446 506h1v1h-1zM452 506h1v1h-1zM455 506h1v1h-1zM457 506h6v1h-6zM335 507h6v1h-6zM342 507h1v1h-1zM344 507h1v1h-1zM351 507h1v1h-1zM354 507h1v1h-1zM357 507h1v1h-1zM367 507h1v1h-1zM369 507h1v1h-1zM371 507h1v1h-1zM377 507h2v1h-2zM381 507h1v1h-1zM385 507h1v1h-1zM411 507h1v1h-1zM414 507h1v1h-1zM419 507h1v1h-1zM429 507h1v1h-1zM441 507h1v1h-1zM443 507h1v1h-1zM445 507h1v1h-1zM451 507h2v1h-2zM455 507h1v1h-1zM459 507h1v1h-1zM336 508h1v1h-1zM340 508h1v1h-1zM343 508h1v1h-1zM351 508h1v1h-1zM353 508h1v1h-1zM355 508h6v1h-6zM366 508h1v1h-1zM369 508h1v1h-1zM372 508h1v1h-1zM378 508h1v1h-1zM381 508h1v1h-1zM383 508h1v1h-1zM385 508h1v1h-1zM387 508h1v1h-1zM411 508h1v1h-1zM414 508h6v1h-6zM429 508h1v1h-1zM439 508h2v1h-2zM443 508h2v1h-2zM452 508h1v1h-1zM455 508h1v1h-1zM457 508h1v1h-1zM459 508h1v1h-1zM461 508h1v1h-1zM337 509h1v1h-1zM339 509h1v1h-1zM342 509h1v1h-1zM344 509h1v1h-1zM351 509h1v1h-1zM353 509h1v1h-1zM355 509h1v1h-1zM360 509h1v1h-1zM364 509h2v1h-2zM369 509h1v1h-1zM373 509h3v1h-3zM378 509h1v1h-1zM380 509h1v1h-1zM383 509h1v1h-1zM385 509h1v1h-1zM388 509h2v1h-2zM411 509h1v1h-1zM429 509h1v1h-1zM438 509h1v1h-1zM442 509h2v1h-2zM445 509h2v1h-2zM452 509h1v1h-1zM454 509h1v1h-1zM457 509h1v1h-1zM459 509h1v1h-1zM462 509h2v1h-2zM337 510h2v1h-2zM341 510h1v1h-1zM345 510h1v1h-1zM351 510h1v1h-1zM353 510h1v1h-1zM355 510h1v1h-1zM360 510h1v1h-1zM363 510h1v1h-1zM369 510h1v1h-1zM374 510h1v1h-1zM378 510h1v1h-1zM380 510h1v1h-1zM382 510h1v1h-1zM385 510h1v1h-1zM389 510h1v1h-1zM411 510h1v1h-1zM421 510h1v1h-1zM429 510h1v1h-1zM440 510h2v1h-2zM443 510h1v1h-1zM447 510h3v1h-3zM452 510h1v1h-1zM454 510h1v1h-1zM456 510h1v1h-1zM459 510h1v1h-1zM463 510h1v1h-1zM335 511h2v1h-2zM339 511h2v1h-2zM346 511h2v1h-2zM349 511h2v1h-2zM352 511h1v1h-1zM355 511h6v1h-6zM369 511h1v1h-1zM378 511h2v1h-2zM384 511h2v1h-2zM411 511h1v1h-1zM413 511h9v1h-9zM423 511h13v1h-13zM437 511h3v1h-3zM443 511h1v1h-1zM448 511h1v1h-1zM452 511h2v1h-2zM458 511h2v1h-2z"/>
<path fill="#555" fill-opacity="0.9" d="M392 506.1h1.9v1.7h-1.9zM392 509h1.9v1.7h-1.9z"/>
</svg></body></html>
